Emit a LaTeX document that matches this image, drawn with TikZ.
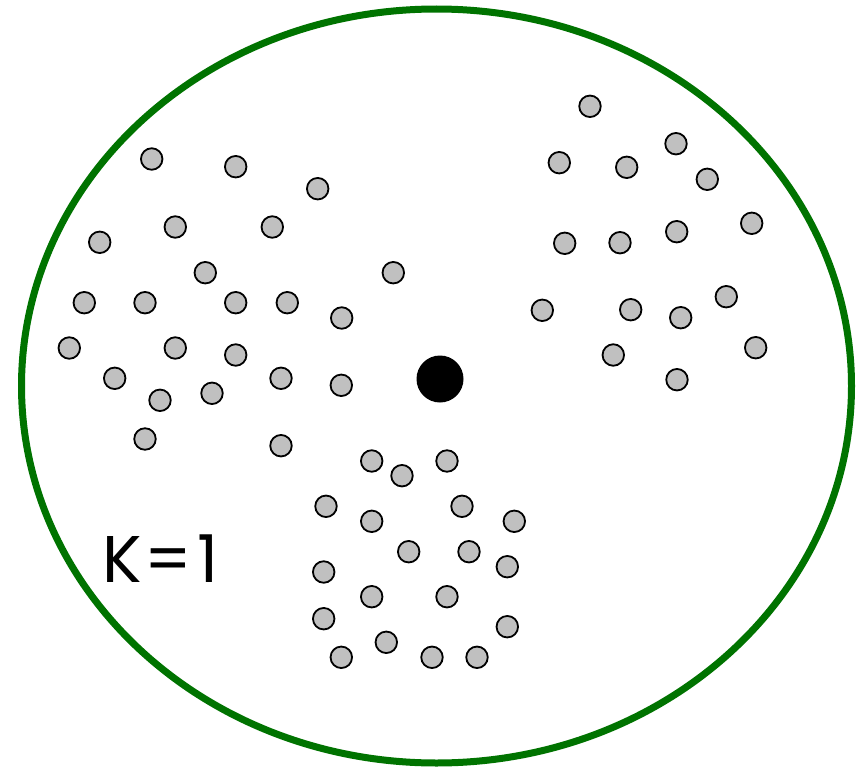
\documentclass[tikz,border=0pt]{standalone}
\usepackage{fontspec}
\newfontfamily\labelfont{Poppins}
\usepackage{tikz}
\usetikzlibrary{positioning}
\definecolor{boundc}{RGB}{0,115,0}
\definecolor{pointc}{RGB}{192,192,192}
\tikzset{
  boundary/.style = {draw=boundc, line width=7pt},
  point/.style    = {circle, draw=black, line width=1.8pt, fill=pointc,
                     minimum size=21.5pt, inner sep=0pt},
  centre/.style   = {circle, fill=black, minimum size=47pt, inner sep=0pt},
  klbl/.style     = {font=\labelfont\fontsize{66}{72}\selectfont, inner sep=0pt, anchor=base west},
}
\begin{document}
\begin{tikzpicture}[x=1pt, y=-1pt]
\useasboundingbox (0,0) rectangle (865,768);

% ---------- the boundary ----------
\draw[boundary] (436.5,386) ellipse [x radius=415, y radius=377];

% ---------- cluster (a): upper left ----------
\foreach \i/\px/\py in {1/151.7/159, 2/235.7/166.7, 3/317.7/188.7, 4/99.7/242.3,
    5/175.3/227, 6/272.3/227, 7/205.3/272.7, 8/393.3/272.7, 9/84.3/302.7,
    10/145/302.7, 11/235.7/302.7, 12/287.3/302.7, 13/341.7/318, 14/69.3/348,
    15/175.3/348, 16/235.7/355, 17/114.7/378.3, 18/160/400.3, 19/212/393.3,
    20/281/378.3, 21/341.3/385.3, 22/145/439, 23/281/445.7}
  \node[point] (a\i) at (\px,\py) {};

% ---------- cluster (b): upper right ----------
\foreach \i/\px/\py in {1/590/106.3, 2/559.3/162.7, 3/626.7/167.3, 4/676/143.7,
    5/707.3/179.3, 6/564.7/243.3, 7/620/242.7, 8/676.7/231.7, 9/751.7/223.3,
    10/542.3/310.3, 11/630.7/309.7, 12/680.7/317.7, 13/726.3/296.7,
    14/613.3/355, 15/755.7/347.7, 16/677/379.7}
  \node[point] (b\i) at (\px,\py) {};

% ---------- cluster (c): bottom ----------
\foreach \i/\px/\py in {1/371.7/461, 2/402/475.7, 3/447/461, 4/326/506.3,
    5/371.7/521.3, 6/462/506.3, 7/514.3/521.3, 8/408.7/551.7, 9/469/551.7,
    10/507.3/566.7, 11/323.7/572, 12/371.7/596.7, 13/447/596.7, 14/323.7/618.7,
    15/386.3/642.3, 16/507.3/626.7, 17/341.3/657.3, 18/432/657.3, 19/477/657.3}
  \node[point] (c\i) at (\px,\py) {};

% ---------- centroid and label ----------
\node[centre] (mean) at (440,379) {};
\node[klbl] (k) at (102,582) {K\kern3pt=\kern5pt1};

\end{tikzpicture}
\end{document}
